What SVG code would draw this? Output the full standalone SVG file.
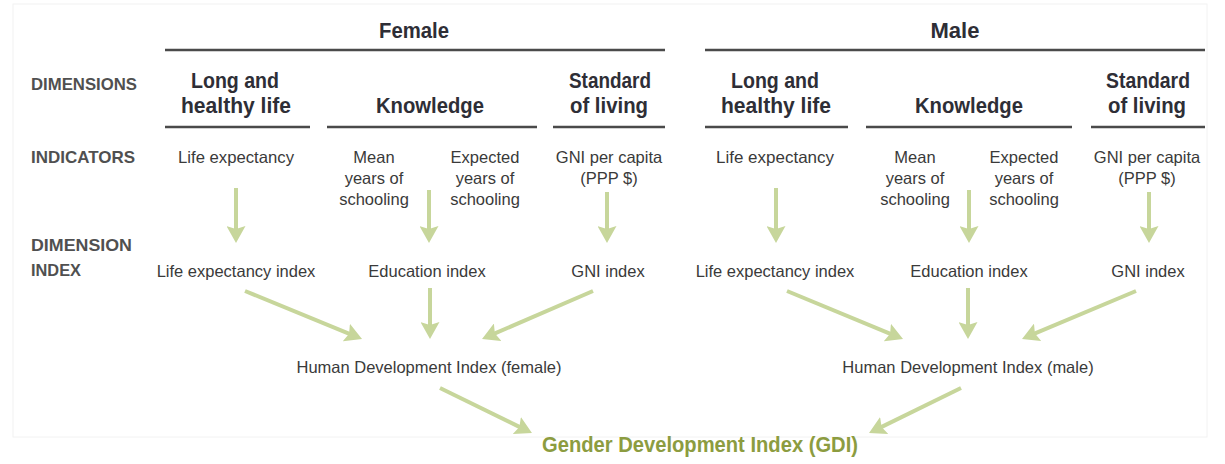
<svg xmlns="http://www.w3.org/2000/svg" width="1225" height="464" viewBox="0 0 1225 464">
  <defs>
    <style>
      .title { font-family: "Liberation Sans", Arial, sans-serif; font-weight: bold; font-size: 21.5px; fill: #2e2e36; text-anchor: middle; }
      .row { font-family: "Liberation Sans", Arial, sans-serif; font-weight: bold; font-size: 17px; fill: #505050; }
      .txt { font-family: "Liberation Sans", Arial, sans-serif; font-size: 16.5px; fill: #3a3a3a; text-anchor: middle; }
      .gdi { font-family: "Liberation Sans", Arial, sans-serif; font-weight: bold; font-size: 22px; fill: #8c9c40; text-anchor: middle; }
      .rule { stroke: #4a4a4a; stroke-width: 2.6; fill: none; }
      .arrow { stroke: #c7d69b; stroke-width: 4; fill: none; marker-end: url(#head); }
      .frame { fill: none; stroke: #f2f2f2; stroke-width: 1; }
    </style>
    <!-- notched arrowhead; the shaft stops 9px before the tip -->
    <marker id="head" markerUnits="userSpaceOnUse" viewBox="0 0 17 19" markerWidth="17" markerHeight="19" refX="8" refY="9.5" orient="auto">
      <path d="M0,0 L17,9.5 L0,19 L3,9.5 Z" fill="#c7d69b"/>
    </marker>
  </defs>

  <rect width="1225" height="464" fill="#ffffff"/>
  <rect class="frame" x="13" y="4" width="1194" height="433"/>

  <!-- column headers and rules -->
  <g id="headers">
    <text class="title" x="414" y="38" textLength="70" lengthAdjust="spacingAndGlyphs">Female</text>
    <text class="title" x="955" y="38" textLength="49" lengthAdjust="spacingAndGlyphs">Male</text>
    <line class="rule" x1="165" y1="50" x2="665" y2="50"/>
    <line class="rule" x1="705" y1="50" x2="1205" y2="50"/>
    <line class="rule" x1="165" y1="127" x2="310" y2="127"/>
    <line class="rule" x1="327" y1="127" x2="537" y2="127"/>
    <line class="rule" x1="553" y1="127" x2="665" y2="127"/>
    <line class="rule" x1="705" y1="127" x2="848" y2="127"/>
    <line class="rule" x1="866" y1="127" x2="1072" y2="127"/>
    <line class="rule" x1="1091" y1="127" x2="1205" y2="127"/>
  </g>

  <!-- row labels -->
  <g id="row-labels">
    <text class="row" x="31" y="90" textLength="106" lengthAdjust="spacingAndGlyphs">DIMENSIONS</text>
    <text class="row" x="31" y="163" textLength="104" lengthAdjust="spacingAndGlyphs">INDICATORS</text>
    <text class="row" x="31" y="251" textLength="101" lengthAdjust="spacingAndGlyphs">DIMENSION</text>
    <text class="row" x="31" y="276" textLength="50" lengthAdjust="spacingAndGlyphs">INDEX</text>
  </g>

  <!-- female dimensions -->
  <g id="f-health">
    <text class="title" x="235" y="88" textLength="88" lengthAdjust="spacingAndGlyphs">Long and</text>
    <text class="title" x="236" y="113" textLength="110" lengthAdjust="spacingAndGlyphs">healthy life</text>
  </g>
  <g id="f-knowledge">
    <text class="title" x="430" y="113" textLength="108" lengthAdjust="spacingAndGlyphs">Knowledge</text>
  </g>
  <g id="f-living">
    <text class="title" x="610" y="88" textLength="82" lengthAdjust="spacingAndGlyphs">Standard</text>
    <text class="title" x="609" y="113" textLength="78" lengthAdjust="spacingAndGlyphs">of living</text>
  </g>

  <!-- male dimensions -->
  <g id="m-health">
    <text class="title" x="775" y="88" textLength="88" lengthAdjust="spacingAndGlyphs">Long and</text>
    <text class="title" x="776" y="113" textLength="110" lengthAdjust="spacingAndGlyphs">healthy life</text>
  </g>
  <g id="m-knowledge">
    <text class="title" x="969" y="113" textLength="108" lengthAdjust="spacingAndGlyphs">Knowledge</text>
  </g>
  <g id="m-living">
    <text class="title" x="1148" y="88" textLength="84" lengthAdjust="spacingAndGlyphs">Standard</text>
    <text class="title" x="1147" y="113" textLength="78" lengthAdjust="spacingAndGlyphs">of living</text>
  </g>

  <!-- female indicators -->
  <g id="f-life-expectancy">
    <text class="txt" x="236" y="163" textLength="116" lengthAdjust="spacingAndGlyphs">Life expectancy</text>
  </g>
  <g id="f-mean-years">
    <text class="txt" x="374" y="163">Mean</text>
    <text class="txt" x="374" y="184">years of</text>
    <text class="txt" x="374" y="205">schooling</text>
  </g>
  <g id="f-expected-years">
    <text class="txt" x="485" y="163">Expected</text>
    <text class="txt" x="485" y="184">years of</text>
    <text class="txt" x="485" y="205">schooling</text>
  </g>
  <g id="f-gni-capita">
    <text class="txt" x="609" y="163">GNI per capita</text>
    <text class="txt" x="609" y="184">(PPP $)</text>
  </g>

  <!-- male indicators -->
  <g id="m-life-expectancy">
    <text class="txt" x="775" y="163" textLength="118" lengthAdjust="spacingAndGlyphs">Life expectancy</text>
  </g>
  <g id="m-mean-years">
    <text class="txt" x="915" y="163">Mean</text>
    <text class="txt" x="915" y="184">years of</text>
    <text class="txt" x="915" y="205">schooling</text>
  </g>
  <g id="m-expected-years">
    <text class="txt" x="1024" y="163">Expected</text>
    <text class="txt" x="1024" y="184">years of</text>
    <text class="txt" x="1024" y="205">schooling</text>
  </g>
  <g id="m-gni-capita">
    <text class="txt" x="1147" y="163">GNI per capita</text>
    <text class="txt" x="1147" y="184">(PPP $)</text>
  </g>

  <!-- dimension indices -->
  <g id="f-life-index"><text class="txt" x="236" y="277">Life expectancy index</text></g>
  <g id="f-education-index"><text class="txt" x="427" y="277">Education index</text></g>
  <g id="f-gni-index"><text class="txt" x="608" y="277">GNI index</text></g>
  <g id="m-life-index"><text class="txt" x="775" y="277">Life expectancy index</text></g>
  <g id="m-education-index"><text class="txt" x="969" y="277">Education index</text></g>
  <g id="m-gni-index"><text class="txt" x="1148" y="277">GNI index</text></g>

  <!-- human development indices -->
  <g id="f-hdi"><text class="txt" x="429" y="373">Human Development Index (female)</text></g>
  <g id="m-hdi"><text class="txt" x="968" y="373">Human Development Index (male)</text></g>

  <!-- gender development index -->
  <g id="gdi"><text class="gdi" x="700" y="452" textLength="316" lengthAdjust="spacingAndGlyphs">Gender Development Index (GDI)</text></g>

  <!-- connectors: each line ends 9px short of the arrow tip -->
  <g id="connectors">
    <!-- indicators to dimension indices -->
    <line class="arrow" x1="236" y1="188" x2="236" y2="234"/>
    <line class="arrow" x1="429" y1="190" x2="429" y2="234"/>
    <line class="arrow" x1="607" y1="192" x2="607" y2="234"/>
    <line class="arrow" x1="776" y1="188" x2="776" y2="234"/>
    <line class="arrow" x1="969" y1="190" x2="969" y2="234"/>
    <line class="arrow" x1="1149" y1="192" x2="1149" y2="234"/>
    <!-- female indices to HDI (female) -->
    <line class="arrow" x1="245" y1="291" x2="353.7" y2="335.6"/>
    <line class="arrow" x1="430" y1="288" x2="430" y2="330"/>
    <line class="arrow" x1="593" y1="291" x2="490.3" y2="335.4"/>
    <!-- male indices to HDI (male) -->
    <line class="arrow" x1="787" y1="291" x2="894.7" y2="335.6"/>
    <line class="arrow" x1="968" y1="288" x2="968" y2="330"/>
    <line class="arrow" x1="1136" y1="291" x2="1030.3" y2="335.4"/>
    <!-- HDIs to GDI -->
    <line class="arrow" x1="440" y1="388" x2="523.9" y2="429.1"/>
    <line class="arrow" x1="961" y1="388" x2="877.1" y2="429.1"/>
  </g>
</svg>
